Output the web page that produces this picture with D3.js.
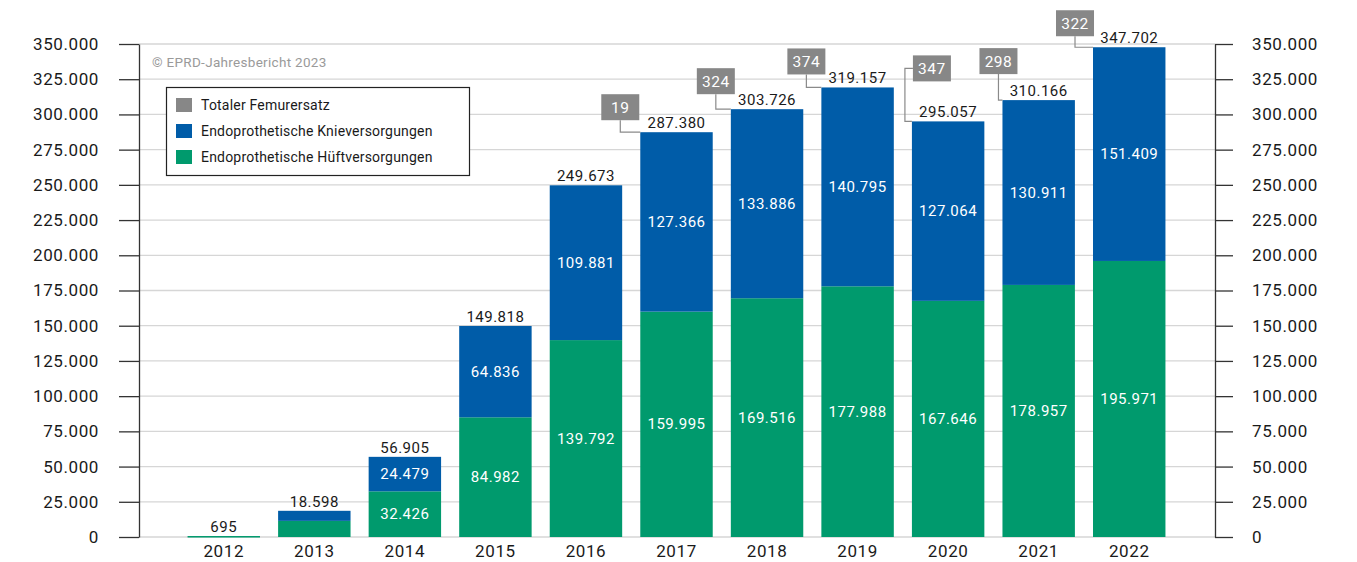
<!DOCTYPE html>
<html>
<head>
<meta charset="utf-8">
<script src="https://cdn.jsdelivr.net/npm/d3@7"></script>
<style>
  body { margin: 0; background: #fff; }
  svg text { font-family: Roboto, "Noto Sans", sans-serif; }
</style>
</head>
<body>
<svg id="chart" width="1357" height="562"></svg>
<script>
var years = ['2012', '2013', '2014', '2015', '2016', '2017', '2018', '2019', '2020', '2021', '2022'];
var hip_values = [695, 11450, 32426, 84982, 139792, 159995, 169516, 177988, 167646, 178957, 195971];
var knee_values = [0, 7148, 24479, 64836, 109881, 127366, 133886, 140795, 127064, 130911, 151409];
var femur_values = [0, 0, 0, 0, 0, 19, 324, 374, 347, 298, 322];
var total_values = [695, 18598, 56905, 149818, 249673, 287380, 303726, 319157, 295057, 310166, 347702];
var tick_values = [0, 25000, 50000, 75000, 100000, 125000, 150000, 175000, 200000, 225000, 250000, 275000, 300000, 325000, 350000];
var legend_labels = ['Totaler Femurersatz', 'Endoprothetische Knieversorgungen', 'Endoprothetische Hüftversorgungen'];

// callout box placement relative to the bar's top-left corner (layout only)
var callout_pos = {
  '2017': {dx: -39, dy: -38, side: false},
  '2018': {dx: -34, dy: -41, side: false},
  '2019': {dx: -34, dy: -39, side: false},
  '2020': {dx: 1, dy: -66, side: true},
  '2021': {dx: -23, dy: -52, side: false},
  '2022': {dx: -37, dy: -37, side: false}
};

var col_hip = '#009a6d';
var col_knee = '#005ca8';
var col_femur = '#878787';

var fmt = d3.formatLocale({decimal: ',', thousands: '.', grouping: [3], currency: ['', '€']}).format(',d');

var svg = d3.select('#chart');
var plotL = 139, plotR = 1215, plotT = 44, plotB = 537;

var y = d3.scaleLinear().domain([0, 350000]).range([plotB, plotT]);
var x = d3.scaleBand().domain(years).range([178.5, 1174.5]).paddingInner(0.2).paddingOuter(0.1);

// grid
svg.append('g').selectAll('line').data(tick_values).enter().append('line')
  .attr('x1', plotL).attr('x2', plotR)
  .attr('y1', function(d) { return y(d); }).attr('y2', function(d) { return y(d); })
  .attr('stroke', '#d6d6d6').attr('stroke-width', 1.3);

// axes
var yl = svg.append('g').attr('transform', 'translate(' + plotL + ',0)')
  .call(d3.axisLeft(y).tickValues(tick_values).tickFormat(fmt).tickSize(20).tickPadding(20).tickSizeOuter(0));
var yr = svg.append('g').attr('transform', 'translate(' + plotR + ',0)')
  .call(d3.axisRight(y).tickValues(tick_values).tickFormat(fmt).tickSize(18).tickPadding(19).tickSizeOuter(0));
[yl, yr].forEach(function(g) {
  g.select('.domain').attr('stroke', '#333').attr('stroke-width', 1.3);
  g.selectAll('.tick line').attr('stroke', '#333').attr('stroke-width', 1.3);
  g.selectAll('.tick text').attr('font-size', 17).attr('fill', '#1a1a1a').style('letter-spacing', '0.6px');
});

var xa = svg.append('g').attr('transform', 'translate(0,' + plotB + ')')
  .call(d3.axisBottom(x).tickSize(0).tickPadding(8));
xa.select('.domain').remove();
xa.selectAll('.tick text').attr('font-size', 17).attr('fill', '#1a1a1a').style('letter-spacing', '0.6px');

// copyright
svg.append('text').attr('x', 152).attr('y', 67).attr('font-size', 13.5).attr('fill', '#9a9a9a')
  .style('letter-spacing', '0.3px').text('© EPRD-Jahresbericht 2023');

// bars
var rows = years.map(function(yr, i) {
  return {year: yr, hip: hip_values[i], knee: knee_values[i], femur: femur_values[i], total: total_values[i]};
});

var bars = svg.append('g');
bars.selectAll('.hip').data(rows).enter().append('rect')
  .attr('x', function(d) { return x(d.year); })
  .attr('width', x.bandwidth())
  .attr('y', function(d) { return y(d.hip); })
  .attr('height', function(d) { return Math.max(plotB - y(d.hip), 1.5); })
  .attr('fill', col_hip);
bars.selectAll('.knee').data(rows).enter().append('rect')
  .attr('x', function(d) { return x(d.year); })
  .attr('width', x.bandwidth())
  .attr('y', function(d) { return y(d.hip + d.knee + d.femur); })
  .attr('height', function(d) { return y(d.hip) - y(d.hip + d.knee + d.femur); })
  .attr('fill', col_knee);

// inner labels
var lbl = svg.append('g').attr('text-anchor', 'middle').attr('fill', '#fff').attr('font-size', 15).style('letter-spacing', '0.5px');
rows.forEach(function(d) {
  var cx = x(d.year) + x.bandwidth() / 2;
  if (d.hip >= 30000) {
    lbl.append('text').attr('x', cx).attr('y', y(d.hip / 2) + 5).text(fmt(d.hip));
  }
  if (d.knee >= 20000) {
    lbl.append('text').attr('x', cx).attr('y', y(d.hip + d.knee / 2) + 5).text(fmt(d.knee));
  }
});

// totals
svg.append('g').selectAll('text').data(rows).enter().append('text')
  .attr('x', function(d) { return x(d.year) + x.bandwidth() / 2; })
  .attr('y', function(d) { return y(d.total) - 4; })
  .attr('text-anchor', 'middle').attr('font-size', 15).attr('fill', '#1a1a1a')
  .style('letter-spacing', '0.5px')
  .text(function(d) { return fmt(d.total); });

// femur callouts
var cg = svg.append('g');
rows.filter(function(d) { return d.femur > 0; }).forEach(function(d) {
  var p = callout_pos[d.year];
  var bx = x(d.year), by = y(d.total);
  var w = 38, h = 26;
  var rx = bx + p.dx, ry = by + p.dy;
  var path;
  if (p.side) {
    path = 'M' + rx + ',' + (ry + h / 2) + 'H' + (rx - 8) + 'V' + by + 'H' + bx;
  } else {
    path = 'M' + (rx + 19) + ',' + (ry + h) + 'V' + by + 'H' + bx;
  }
  cg.append('path').attr('d', path).attr('fill', 'none').attr('stroke', '#8a8a8a').attr('stroke-width', 1.2);
  cg.append('rect').attr('x', rx).attr('y', ry).attr('width', w).attr('height', h).attr('fill', col_femur);
  cg.append('text').attr('x', rx + w / 2).attr('y', ry + h / 2 + 5.5).attr('text-anchor', 'middle')
    .attr('font-size', 15.5).attr('fill', '#fff').style('letter-spacing', '0.5px').text(fmt(d.femur));
});

// legend
var lg = svg.append('g');
lg.append('rect').attr('x', 166.5).attr('y', 87.5).attr('width', 303).attr('height', 88)
  .attr('fill', '#fff').attr('stroke', '#222').attr('stroke-width', 1.2);
var lcols = [col_femur, col_knee, col_hip];
legend_labels.forEach(function(t, i) {
  var ly = 105 + i * 26;
  lg.append('rect').attr('x', 176).attr('y', ly - 7).attr('width', 16).attr('height', 14).attr('fill', lcols[i]);
  lg.append('text').attr('x', 201).attr('y', ly + 5).attr('font-size', 14).attr('fill', '#1a1a1a')
    .style('letter-spacing', '0.2px').text(t);
});
</script>
</body>
</html>
